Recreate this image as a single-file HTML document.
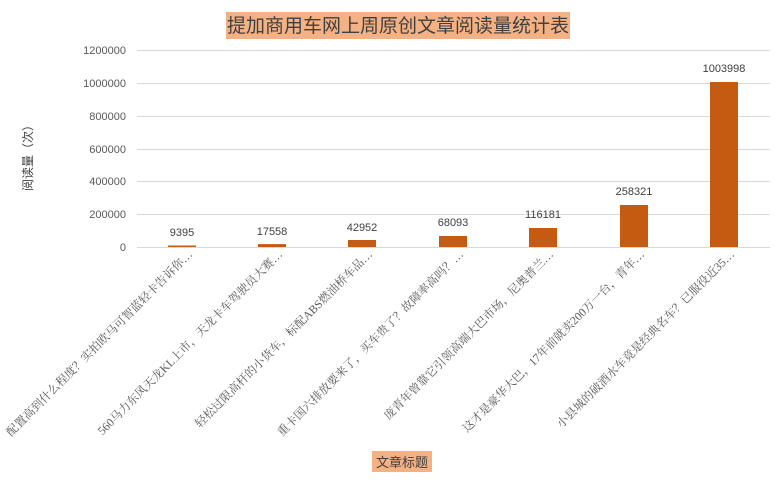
<!DOCTYPE html>
<html><head><meta charset="utf-8"><style>
body{margin:0;background:#fff;}
svg text{font-family:"Liberation Sans","Noto Sans CJK SC",sans-serif;}
svg text.s{font-family:"Liberation Serif","Noto Serif CJK SC",serif;}
</style></head><body>
<svg width="781" height="481" viewBox="0 0 781 481" xmlns="http://www.w3.org/2000/svg">
<rect width="781" height="481" fill="#fff"/>
<rect x="226" y="12" width="344" height="27" fill="#f4b183"/>
<text x="398" y="32" font-size="19" text-anchor="middle" fill="#404040">提加商用车网上周原创文章阅读量统计表</text>
<g stroke="#d9d9d9" stroke-width="1">
<line x1="137" y1="50.5" x2="770" y2="50.5"/>
<line x1="137" y1="83.5" x2="770" y2="83.5"/>
<line x1="137" y1="116.5" x2="770" y2="116.5"/>
<line x1="137" y1="149.5" x2="770" y2="149.5"/>
<line x1="137" y1="181.5" x2="770" y2="181.5"/>
<line x1="137" y1="214.5" x2="770" y2="214.5"/>
<line x1="137" y1="247.5" x2="770" y2="247.5"/>
</g>
<g font-size="11" fill="#595959" text-anchor="end">
<text x="126" y="54">1200000</text>
<text x="126" y="87">1000000</text>
<text x="126" y="120">800000</text>
<text x="126" y="153">600000</text>
<text x="126" y="185">400000</text>
<text x="126" y="218">200000</text>
<text x="126" y="251">0</text>
</g>
<text transform="translate(32,155) rotate(-90)" font-size="12" fill="#404040" text-anchor="middle">阅读量（次）</text>
<g fill="#c55a11">
<rect x="168" y="245.5" width="28" height="1.5"/>
<rect x="258" y="244.1" width="28" height="2.9"/>
<rect x="348" y="240" width="28" height="7"/>
<rect x="439" y="236" width="28" height="11"/>
<rect x="529" y="228" width="28" height="19"/>
<rect x="620" y="205" width="28" height="42"/>
<rect x="710" y="82" width="28" height="165"/>
</g>
<g font-size="11" fill="#404040" text-anchor="middle">
<text x="182" y="236">9395</text>
<text x="272" y="235">17558</text>
<text x="362" y="231">42952</text>
<text x="453" y="226">68093</text>
<text x="543" y="218">116181</text>
<text x="634" y="195">258321</text>
<text x="724" y="72">1003998</text>
</g>
<g font-size="11.7" fill="#595959" text-anchor="end">
<text class="s" transform="translate(193,255) rotate(-45)">配置高到什么程度？实拍欧马可智蓝轻卡告诉你…</text>
<text class="s" transform="translate(283,255) rotate(-45)">560马力东风天龙KL上市，天龙卡车驾驶员大赛…</text>
<text class="s" transform="translate(373,255) rotate(-45)">轻松过限高杆的小货车，标配ABS燃油桥车品…</text>
<text class="s" transform="translate(464,255) rotate(-45)">重卡国六排放要来了，买车贵了？故障率高吗？…</text>
<text class="s" transform="translate(554,255) rotate(-45)">庞青年曾靠它引领高端大巴市场，尼奥普兰…</text>
<text class="s" transform="translate(645,255) rotate(-45)">这才是豪华大巴，17年前就卖200万一台，青年…</text>
<text class="s" transform="translate(735,255) rotate(-45)">小县城的破酒水车竟是经典名车？已服役近35…</text>
</g>
<rect x="372" y="451" width="60" height="21" fill="#f4b183"/>
<text x="402" y="467" font-size="13" text-anchor="middle" fill="#404040">文章标题</text>
</svg>
</body></html>
